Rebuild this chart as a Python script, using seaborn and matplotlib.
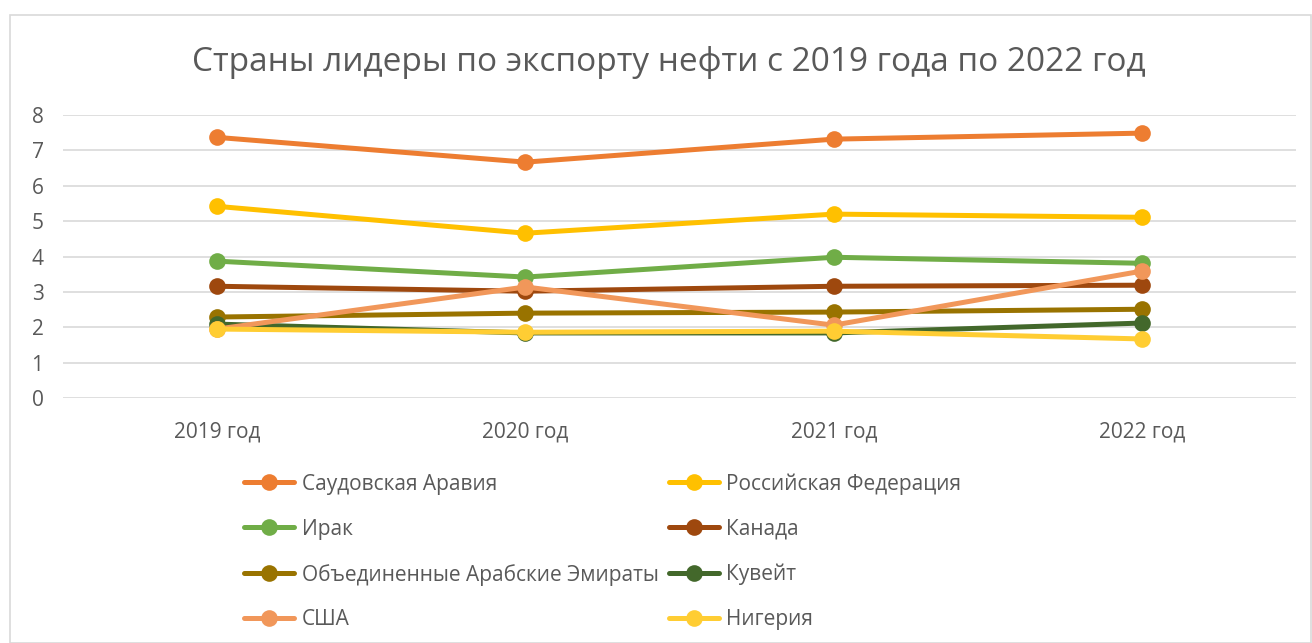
import numpy as np
import pandas as pd
import matplotlib.pyplot as plt
import seaborn as sns
from matplotlib.patches import Rectangle

sns.set_style("white")
plt.rcParams['font.family'] = ['Open Sans', 'DejaVu Sans']

years = ['2019 год', '2020 год', '2021 год', '2022 год']
countries = ['Саудовская Аравия', 'Российская Федерация', 'Ирак', 'Канада',
             'Объединенные Арабские Эмираты', 'Кувейт', 'США', 'Нигерия']

saudi = [7.37, 6.67, 7.32, 7.49]
russia = [5.42, 4.66, 5.20, 5.11]
iraq = [3.87, 3.42, 3.98, 3.81]
canada = [3.16, 3.02, 3.16, 3.19]
uae = [2.29, 2.40, 2.43, 2.51]
kuwait = [2.09, 1.84, 1.84, 2.12]
usa = [1.95, 3.14, 2.06, 3.59]
nigeria = [1.95, 1.86, 1.89, 1.67]

colors = ['#ED7D31', '#FFC000', '#70AD47', '#9E480E',
          '#997300', '#43682B', '#F1975A', '#FFCD33']

values = [saudi, russia, iraq, canada, uae, kuwait, usa, nigeria]
df = pd.DataFrame({
    'year': years * len(countries),
    'country': np.repeat(countries, len(years)),
    'value': np.concatenate(values),
})

text_color = '#595959'

fig = plt.figure(figsize=(13.12, 6.43), dpi=100)
ax = fig.add_axes([0.048, 0.381, 0.940, 0.440])

sns.lineplot(data=df, x='year', y='value', hue='country', hue_order=countries,
             palette=colors, marker='o', markersize=12, markeredgewidth=0,
             linewidth=3.6, sort=False, ax=ax, legend=True)

ax.set_xlim(-0.5, 3.5)
ax.set_ylim(0, 8)
ax.set_yticks(range(0, 9))
ax.yaxis.grid(True, color='#D9D9D9', linewidth=1.2)
ax.set_axisbelow(True)
for s in ax.spines.values():
    s.set_visible(False)
ax.tick_params(axis='both', length=0, labelsize=15, labelcolor=text_color)
ax.tick_params(axis='x', pad=17)
ax.tick_params(axis='y', pad=14)
ax.set_xlabel('')
ax.set_ylabel('')

fig.text(0.510, 0.903, 'Страны лидеры по экспорту нефти с 2019 года по 2022 год',
         ha='center', va='center', fontsize=24, color=text_color)

handles, labels = ax.get_legend_handles_labels()
ax.get_legend().remove()
order = [0, 2, 4, 6, 1, 3, 5, 7]
fig.legend([handles[i] for i in order], [labels[i] for i in order],
           ncol=2, loc='upper left', bbox_to_anchor=(0.180, 0.277),
           frameon=False, fontsize=15, labelcolor=text_color,
           handlelength=2.4, handletextpad=0.35, columnspacing=0.5,
           labelspacing=1.15, borderaxespad=0)

fig.patches.append(Rectangle((10 / 1312, 0), 1 - 10 / 1312 - 0.001, 1 - 15 / 643,
                             transform=fig.transFigure, fill=False,
                             edgecolor='#D9D9D9', linewidth=1.2))

plt.savefig('out.png', dpi=100)
